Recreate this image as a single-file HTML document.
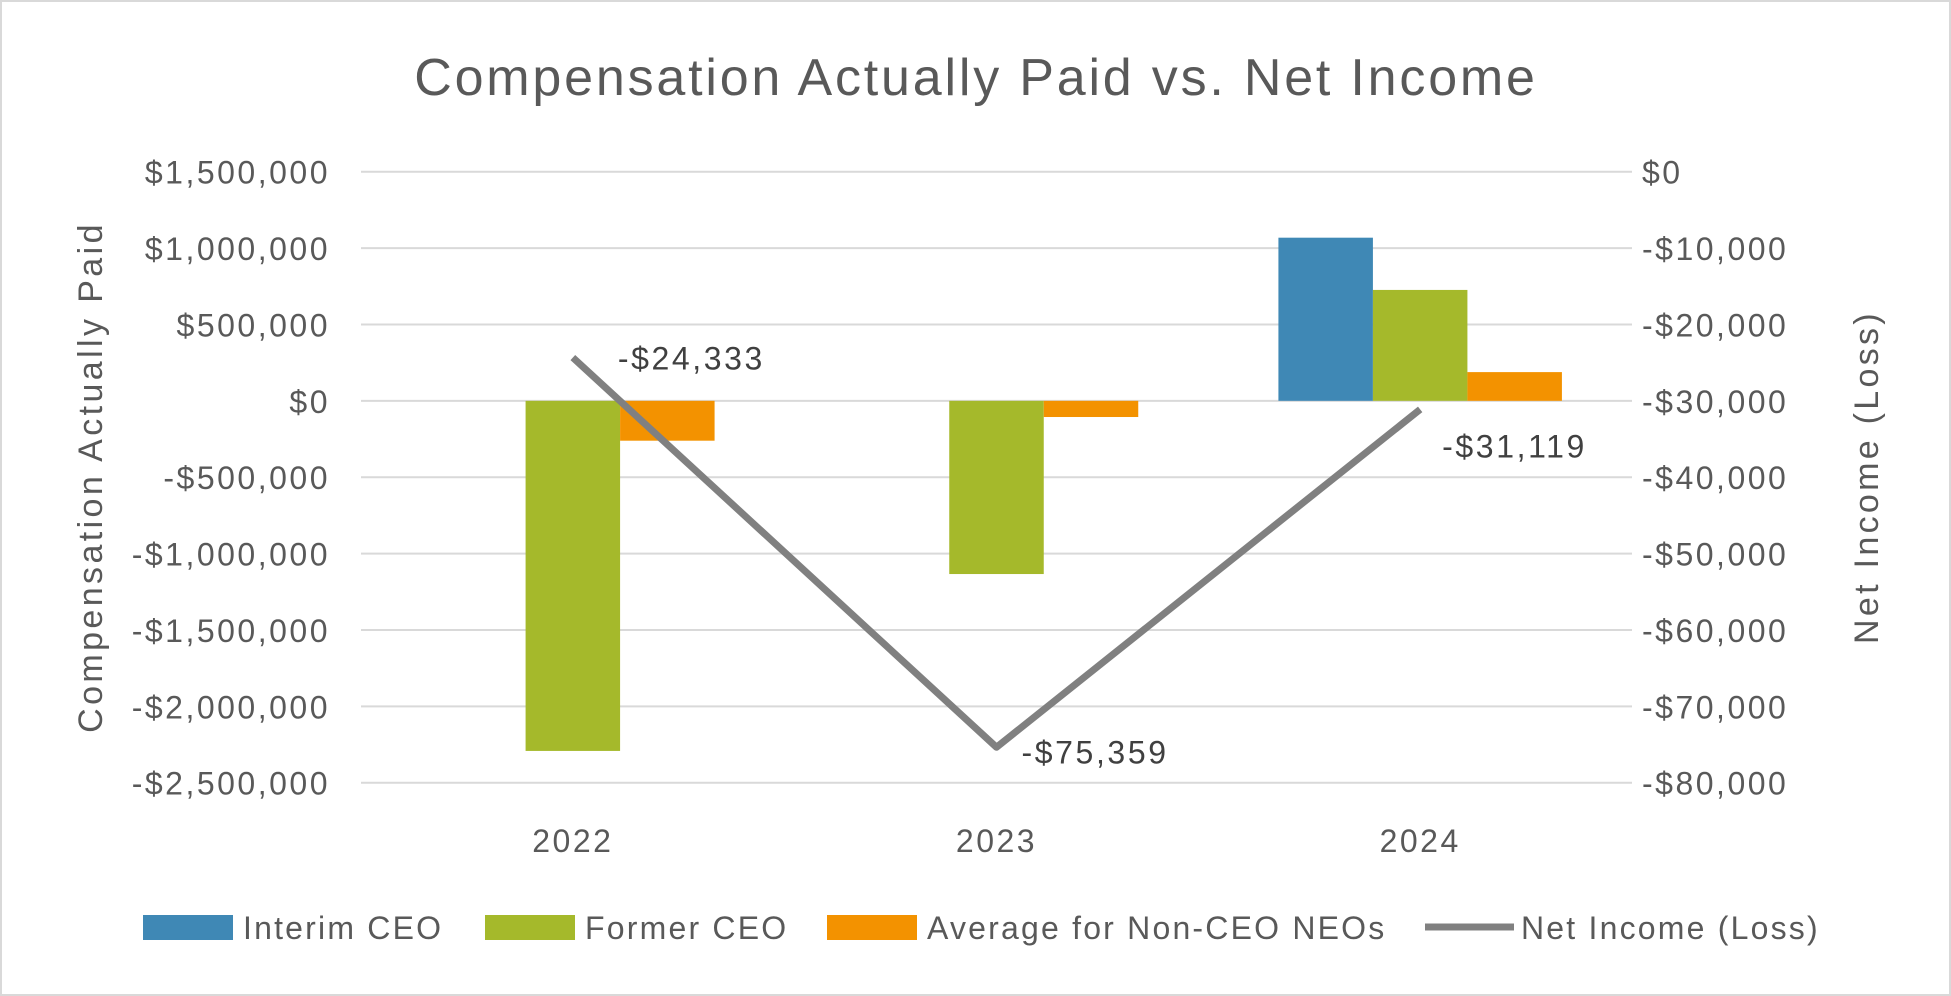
<!DOCTYPE html>
<html><head><meta charset="utf-8"><style>
html,body{margin:0;padding:0;background:#fff}
svg{display:block}
text{font-family:"Liberation Sans",sans-serif;fill:#595959}
</style></head><body>
<svg id="chart" width="1951" height="996">
<rect x="1" y="1" width="1949" height="994" fill="#fff" stroke="#d9d9d9" stroke-width="2"/>
<text x="976" y="95" text-anchor="middle" font-size="52" letter-spacing="2.8">Compensation Actually Paid vs. Net Income</text>
<g id="grid"></g><g id="bars"></g><g id="line"></g><g id="labels"></g>
<text transform="translate(102,477) rotate(-90)" text-anchor="middle" font-size="34" letter-spacing="3.4">Compensation Actually Paid</text>
<text transform="translate(1878,477) rotate(-90)" text-anchor="middle" font-size="34" letter-spacing="3.3">Net Income (Loss)</text>
<g font-size="32" letter-spacing="2.2">
<rect x="143" y="915" width="90" height="25" fill="#3f88b5"/>
<text x="243" y="939">Interim CEO</text>
<rect x="485" y="915" width="90" height="25" fill="#a5b92b"/>
<text x="585" y="939">Former CEO</text>
<rect x="827" y="915" width="90" height="25" fill="#f39200"/>
<text x="927" y="939">Average for Non-CEO NEOs</text>
<line x1="1425" y1="927" x2="1514" y2="927" stroke="#808080" stroke-width="7"/>
<text x="1521" y="939">Net Income (Loss)</text>
</g>
</svg>
<script>
const categories=["2022","2023","2024"];
const interimCEO=[0,0,1068000];
const formerCEO=[-2292000,-1134000,726000];
const avgNonCEO=[-261000,-106000,188000];
const netIncome=[-24333,-75359,-31119];
const leftTicks=[1500000,1000000,500000,0,-500000,-1000000,-1500000,-2000000,-2500000];
const rightTicks=[0,-10000,-20000,-30000,-40000,-50000,-60000,-70000,-80000];
const ns="http://www.w3.org/2000/svg";
const X0=361,X1=1632,TOP=171.7,BOT=782.7;
const yL=v=>TOP+(1500000-v)/4000000*(BOT-TOP);
const yR=v=>TOP+(0-v)/80000*(BOT-TOP);
const cw=(X1-X0)/categories.length;
const xc=i=>X0+cw*(i+0.5);
const bw=94.5;
function mk(t,a,p){const e=document.createElementNS(ns,t);for(const k in a)e.setAttribute(k,a[k]);document.getElementById(p).appendChild(e);return e;}
const fmt=v=>(v<0?"-":"")+"$"+Math.abs(v).toLocaleString("en-US");
leftTicks.forEach(v=>{
 const l=mk("line",{x1:X0,x2:X1,y1:yL(v),y2:yL(v),stroke:"#d9d9d9","stroke-width":2},"grid");
 
 
 const t=mk("text",{x:330,y:yL(v)+12,"text-anchor":"end","font-size":32,"letter-spacing":2.5},"labels");
 t.textContent=fmt(v);
 
 
});
rightTicks.forEach(v=>{
 const t=mk("text",{x:1642,y:yR(v)+12,"font-size":32,"letter-spacing":2.5},"labels");
 t.textContent=fmt(v);
 
 
});
categories.forEach((c,i)=>{
 const t=mk("text",{x:xc(i),y:852,"text-anchor":"middle","font-size":32,"letter-spacing":2.5},"labels");
 t.textContent=c;
 
 
});
const series=[[interimCEO,"#3f88b5","interim-ceo"],[formerCEO,"#a5b92b","former-ceo"],[avgNonCEO,"#f39200","average-non-ceo"]];
series.forEach((s,j)=>{
 s[0].forEach((v,i)=>{
  if(v===0)return;
  const x=xc(i)-1.5*bw+j*bw;
  const y=Math.min(yL(v),yL(0)),h=Math.abs(yL(v)-yL(0));
  const r=mk("rect",{x:x,y:y,width:bw,height:h,fill:s[1]},"bars");
  
  
 });
});
const pl=mk("polyline",{points:netIncome.map((v,i)=>xc(i)+","+yR(v)).join(" "),fill:"none",stroke:"#808080","stroke-width":7,"stroke-linejoin":"round"},"line");


const lblDx=[45,25,22];
netIncome.forEach((v,i)=>{
 const t=mk("text",{x:xc(i)+lblDx[i],y:yR(v)+(i===1?16:i===2?48:12),"font-size":32,"letter-spacing":2.6},"labels");
 t.style.fill="#404040";
 t.textContent=fmt(v);
 
 
});
</script>
</body></html>
